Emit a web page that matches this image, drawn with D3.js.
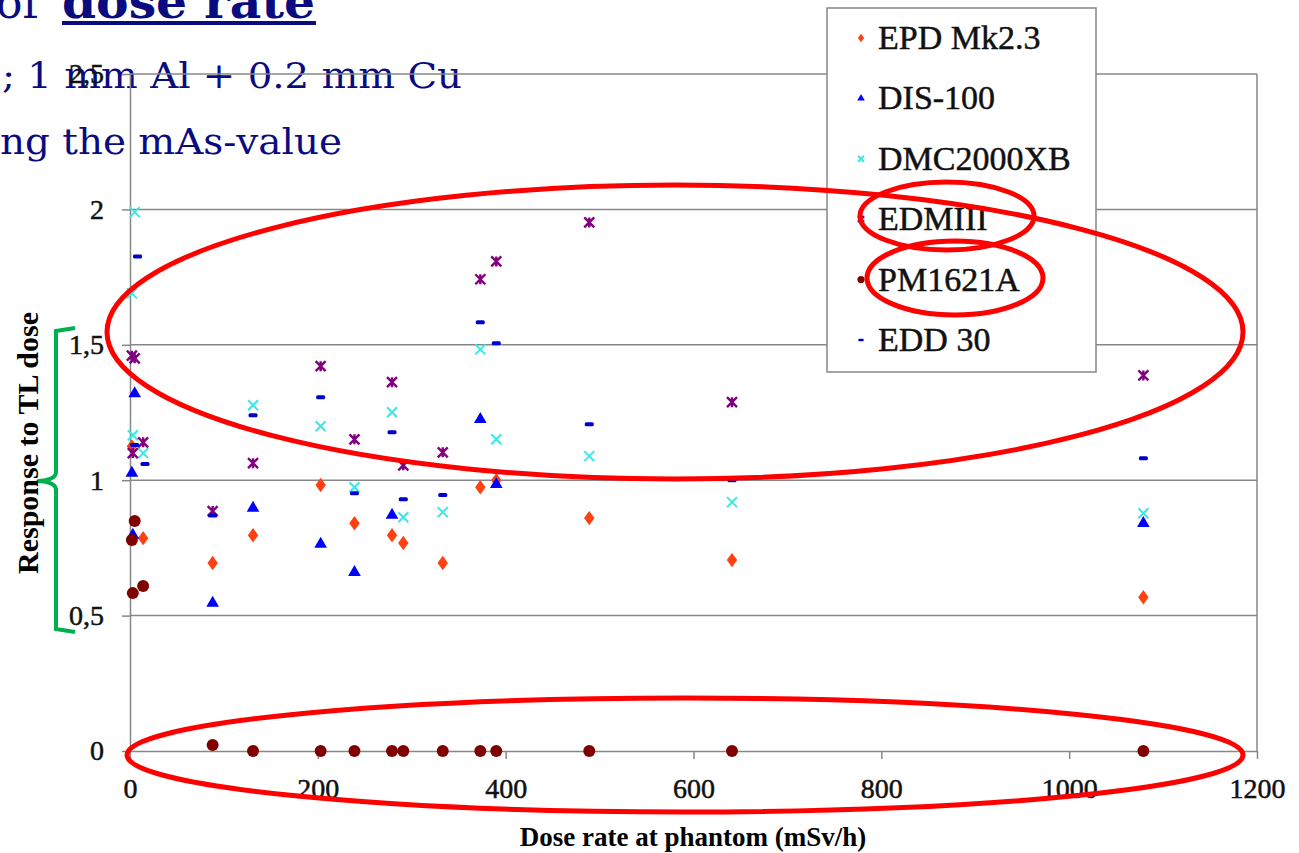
<!DOCTYPE html>
<html>
<head>
<meta charset="utf-8">
<script src="https://cdn.jsdelivr.net/npm/d3@7"></script>
<style>
  body { margin: 0; background: #fff; }
  svg { display: block; }
  .serif { font-family: "Liberation Serif", "Times New Roman", serif; }
  .heavy { stroke: #111; stroke-width: 0.5px; }
</style>
</head>
<body>
<div id="chart"></div>
<script>
// values: [dose rate (mSv/h), response to TL dose]
const epd = [[2,1.125],[14,0.786],[88,0.694],[131,0.797],[203,0.982],[239,0.841],[279,0.797],[291,0.768],[333,0.694],[373,0.974],[390,1.0],[489,0.86],[641,0.705],[1079,0.568]];
const dis = [[2,1.026],[5,1.32],[3,0.797],[88,0.546],[131,0.897],[203,0.764],[239,0.66],[279,0.871],[373,1.225],[390,0.985],[1079,0.841]];
const dmc = [[5,1.99],[2,1.69],[3,1.166],[14,1.10],[131,1.277],[203,1.199],[239,0.974],[279,1.251],[291,0.863],[333,0.882],[373,1.483],[390,1.151],[489,1.089],[641,0.919],[1079,0.878]];
const edm = [[2,1.46],[5,1.45],[14,1.14],[3,1.10],[88,0.886],[131,1.063],[203,1.421],[239,1.151],[279,1.362],[291,1.055],[333,1.103],[373,1.742],[390,1.808],[489,1.952],[641,1.288],[1079,1.387]];
const pm = [[5,0.849],[2,0.779],[3,0.583],[14,0.609],[88,0.022],[131,0],[203,0],[239,0],[279,0],[291,0],[333,0],[373,0],[390,0],[489,0],[641,0],[1079,0]];
const edd = [[8,1.826],[5,1.13],[16,1.06],[88,0.87],[131,1.24],[203,1.306],[239,0.952],[279,1.177],[291,0.93],[333,0.945],[373,1.583],[390,1.506],[489,1.207],[641,1.0],[1079,1.081]];

const seriesNames = ["EPD Mk2.3", "DIS-100", "DMC2000XB", "EDMIII", "PM1621A", "EDD 30"];
const xTicks = [0, 200, 400, 600, 800, 1000, 1200];
const yTicks = [0, 0.5, 1, 1.5, 2, 2.5];

const W = 1299, H = 853;
const svg = d3.select("#chart").append("svg").attr("width", W).attr("height", H);

// slide text behind the chart
const slide = svg.append("g").attr("fill", "#0b0b80").attr("font-family", "DejaVu Serif");
slide.append("text").attr("x", -4).attr("y", 18).attr("font-size", 44).text("of");
slide.append("text").attr("x", 62).attr("y", 18).attr("font-size", 46).attr("font-weight", "bold")
  .attr("textLength", 253).attr("lengthAdjust", "spacingAndGlyphs").text("dose rate");
slide.append("rect").attr("x", 62).attr("y", 21).attr("width", 254).attr("height", 4);
slide.append("text").attr("x", 2).attr("y", 88).attr("textLength", 460).attr("lengthAdjust", "spacingAndGlyphs")
  .attr("font-size", 35).text("; 1 mm Al + 0.2 mm Cu");
slide.append("text").attr("x", 0).attr("y", 154).attr("textLength", 342).attr("lengthAdjust", "spacingAndGlyphs")
  .attr("font-size", 35).text("ng the mAs-value");

const x = d3.scaleLinear().domain([0, 1200]).range([130, 1257]);
const y = d3.scaleLinear().domain([0, 2.5]).range([751, 74]);
const grey = "#878787";

// gridlines and plot border
svg.append("g").selectAll("line").data(yTicks.filter(d => d > 0)).join("line")
  .attr("x1", x(0)).attr("x2", x(1200)).attr("y1", d => y(d)).attr("y2", d => y(d))
  .attr("stroke", grey).attr("stroke-width", 1.5);
svg.append("line").attr("x1", x(1200)).attr("x2", x(1200)).attr("y1", y(2.5)).attr("y2", y(0))
  .attr("stroke", grey).attr("stroke-width", 1.5);

const fmt = d => String(d).replace(".", ",");
const xAxis = svg.append("g").attr("transform", `translate(0,${y(0)})`)
  .call(d3.axisBottom(x).tickValues(xTicks).tickFormat(d3.format("d")).tickSize(8).tickPadding(19).tickSizeOuter(0));
const yAxis = svg.append("g").attr("transform", `translate(${x(0)},0)`)
  .call(d3.axisLeft(y).tickValues(yTicks).tickFormat(fmt).tickSize(8).tickPadding(18).tickSizeOuter(0));
[xAxis, yAxis].forEach(a => {
  a.attr("font-family", null).attr("font-size", null);
  a.selectAll("path, line").attr("stroke", grey).attr("stroke-width", 1.5);
  a.selectAll("text").attr("class", "serif heavy").attr("fill", "#111").attr("font-size", 28);
});

svg.append("text").attr("class", "serif").attr("x", 693).attr("y", 846).attr("text-anchor", "middle")
  .attr("font-size", 27).attr("font-weight", "bold")
  .text("Dose rate at phantom (mSv/h)");
svg.append("text").attr("class", "serif").attr("transform", "translate(38,443) rotate(-90)").attr("text-anchor", "middle")
  .attr("font-size", 30).attr("font-weight", "bold")
  .text("Response to TL dose");

// marker drawers, s = scale
const markers = [
  { data: epd, draw: (g, s) => g.append("path").attr("d", d3.symbol(d3.symbolDiamond, 60 * s * s)()).attr("transform", "scale(1.25,1)").attr("fill", "#ff4010") },
  { data: dis, draw: (g, s) => g.append("path").attr("d", d3.symbol(d3.symbolTriangle, 70 * s * s)()).attr("fill", "#0000ff") },
  { data: dmc, draw: (g, s) => g.append("path").attr("d", `M${-5*s},${-5*s}L${5*s},${5*s}M${-5*s},${5*s}L${5*s},${-5*s}`).attr("stroke", "#38e8e8").attr("stroke-width", 2).attr("fill", "none") },
  { data: edm, draw: (g, s) => g.append("path").attr("d", `M${-5*s},${-5*s}L${5*s},${5*s}M${-5*s},${5*s}L${5*s},${-5*s}M0,${-5*s}L0,${5*s}`).attr("stroke", "#800080").attr("stroke-width", 2.4).attr("fill", "none") },
  { data: pm, draw: (g, s) => g.append("circle").attr("r", 6 * s).attr("fill", "#800000") },
  { data: edd, draw: (g, s) => g.append("rect").attr("x", -4.5 * s).attr("y", -2 * s).attr("width", 9 * s).attr("height", 4 * s).attr("rx", 1.5 * s).attr("fill", "#0000cc") }
];

markers.forEach(m => {
  svg.append("g").selectAll("g").data(m.data).join("g")
    .attr("transform", d => `translate(${x(d[0])},${y(d[1])})`)
    .each(function () { m.draw(d3.select(this), 1); });
});

// legend
const legend = svg.append("g");
legend.append("rect").attr("x", 827).attr("y", 8).attr("width", 269).attr("height", 364)
  .attr("fill", "#fff").attr("stroke", grey).attr("stroke-width", 1.5);
seriesNames.forEach((name, i) => {
  const cy = 38 + i * 60.4;
  const g = legend.append("g").attr("transform", `translate(861,${cy})`);
  markers[i].draw(g, 0.6);
  legend.append("text").attr("class", "serif heavy").attr("x", 878).attr("y", cy + 11).attr("fill", "#111")
    .attr("font-size", 34).text(name);
});

// annotations drawn over the chart
const notes = svg.append("g").attr("fill", "none");
[[675, 332, 568, 147], [685, 755, 558, 57], [947, 216, 87, 34], [955, 278, 88, 37]].forEach(e => {
  notes.append("ellipse").attr("cx", e[0]).attr("cy", e[1]).attr("rx", e[2]).attr("ry", e[3])
    .attr("stroke", "#ff0000").attr("stroke-width", 5);
});
notes.append("path").attr("d", "M75,328 L56,331 L56,472 Q56,480 38,481 Q56,482 56,490 L56,629 L75,632")
  .attr("stroke", "#00b050").attr("stroke-width", 4);
</script>
</body>
</html>
